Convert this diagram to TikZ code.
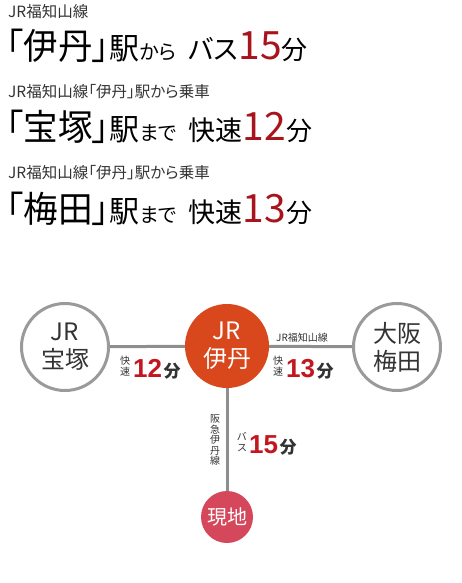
\documentclass[tikz,border=0pt]{standalone}
\usepackage{fontspec}
\setmainfont{Noto Sans CJK JP}[RawFeature=+palt]
\newfontfamily\figfont{Liberation Sans}
\usetikzlibrary{backgrounds}
\definecolor{hdred}{HTML}{A8141B}
\definecolor{figred}{HTML}{C4161F}
\definecolor{hubor}{HTML}{D9471C}
\definecolor{sitered}{HTML}{D5475A}
\definecolor{railgray}{HTML}{8E8E8E}
\definecolor{ringgray}{HTML}{9A9A9A}
\definecolor{inkgray}{HTML}{333333}
\newcommand{\fsz}[1]{\fontsize{#1}{#1}\selectfont}
\newcommand{\eki}[1]{{\fsz{36}\addfontfeatures{FakeStretch=0.96}#1}}

\begin{document}
\begin{tikzpicture}[
  x=1pt, y=-1pt,
  head/.style={anchor=base west, inner sep=0pt, text=black},
  sub/.style={anchor=base west, inner sep=0pt, font=\fsz{15.5}, text=inkgray},
  station/.style={circle, draw=ringgray, line width=3pt, fill=white, minimum size=87pt, inner sep=0pt,
    align=center, font=\fontsize{24}{28}\selectfont, text=inkgray},
  hub/.style={circle, fill=hubor, minimum size=84pt, inner sep=0pt, align=center,
    font=\fontsize{24}{28}\selectfont, text=white},
  site/.style={circle, fill=sitered, minimum size=52pt, inner sep=0pt, font=\fsz{20}, text=white},
  rail/.style={draw=railgray, line width=3pt},
  tate/.style={inner sep=0pt, align=center, font=\fontsize{10}{10.5}\selectfont, text=inkgray},
  redfig/.style={anchor=base west, inner sep=0pt, font=\figfont\bfseries\fsz{26}, text=figred},
  fun/.style={anchor=base west, inner sep=1pt, font=\bfseries\fsz{17}, text=inkgray}
]
\useasboundingbox (0,0) rectangle (461,583);

% header lines
\node[sub] (sub1) at (8,18) {JR福知山線};
\node[head] (line1) at (6,60) {\eki{「伊丹」}{\fsz{30}駅}{\fsz{20}から}\hspace{12pt}{\fsz{27}バス}{\fsz{39}\color{hdred}15}{\fsz{26}分}};
\node[sub] (sub2) at (8,98) {JR福知山線「伊丹」駅から乗車};
\node[head] (line2) at (6,140) {\eki{「宝塚」}{\fsz{30}駅}{\fsz{20}まで}\hspace{12pt}{\fsz{27}快速}{\fsz{39}\color{hdred}12}{\fsz{26}分}};
\node[sub] (sub3) at (8,178) {JR福知山線「伊丹」駅から乗車};
\node[head] (line3) at (6,222) {\eki{「梅田」}{\fsz{30}駅}{\fsz{20}まで}\hspace{12pt}{\fsz{27}快速}{\fsz{39}\color{hdred}13}{\fsz{26}分}};

% route map
\node[station] (takarazuka) at (65,347) {JR\\宝塚};
\node[hub] (itami) at (227,346) {JR\\伊丹};
\node[station] (umeda) at (397,347) {大阪\\梅田};
\node[site] (genchi) at (227,517) {現地};

\begin{scope}[on background layer]
\draw[rail] (takarazuka) -- (itami);
\draw[rail] (itami) -- (umeda);
\draw[rail] (itami) -- (genchi);
\end{scope}

\node[tate] (kai12) at (125,366) {快\\速};
\node[redfig] (t12) at (133,377) {12};
\node[fun] at (t12.base east) {分};

\node[tate] (kai13) at (278,366) {快\\速};
\node[redfig] (t13) at (286,377) {13};
\node[fun] at (t13.base east) {分};
\node[tate, font=\fsz{10}] (fuku) at (302,338) {JR福知山線};

\node[tate] (hankyu) at (215,440) {阪\\急\\伊\\丹\\線};
\node[tate] (bus) at (242,442) {バ\\ス};
\node[redfig] (t15) at (249,453) {15};
\node[fun] at (t15.base east) {分};
\end{tikzpicture}
\end{document}
